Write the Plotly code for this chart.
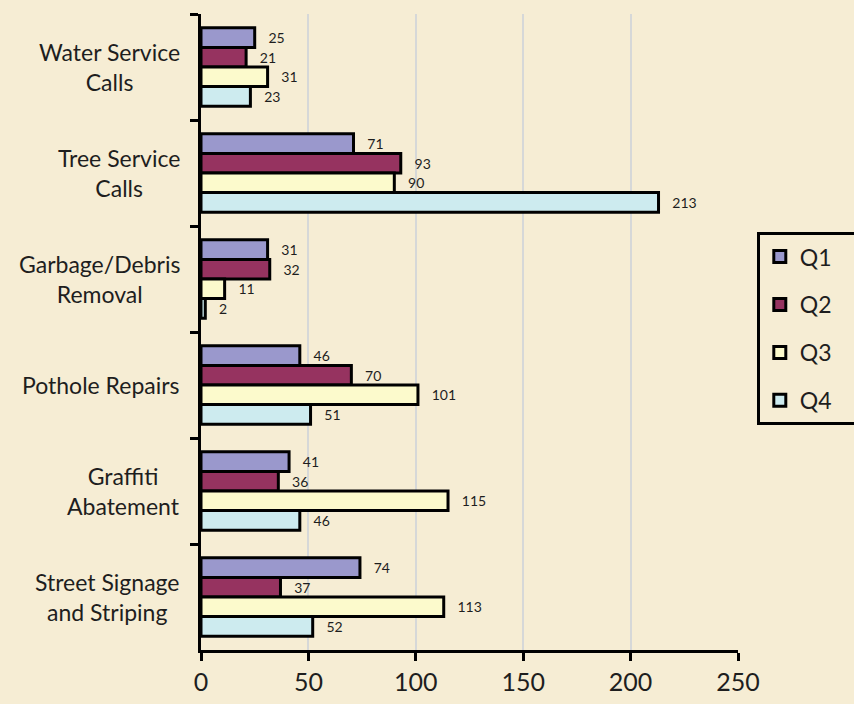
import plotly.graph_objects as go

categories = ["Water Service<br>Calls", "Tree Service<br>Calls", "Garbage/Debris<br>Removal",
              "Pothole Repairs", "Graffiti<br>Abatement", "Street Signage<br>and Striping"]
q1 = [25, 71, 31, 46, 41, 74]
q2 = [21, 93, 32, 70, 36, 37]
q3 = [31, 90, 11, 101, 115, 113]
q4 = [23, 213, 2, 51, 46, 52]
series_names = ["Q1", "Q2", "Q3", "Q4"]
series_values = [q1, q2, q3, q4]
colors = ["#9A98CC", "#963360", "#FCFACC", "#CDEBEF"]
x_ticks = [0, 50, 100, 150, 200, 250]

BG = "#F6EDD4"
FONT = "Lato, 'Open Sans', sans-serif"
TXT = "#1e1e1e"
PAD = "\u00a0" * 8  # widens the legend box so it runs off the right edge as in the original

fig = go.Figure()
for name, vals, col in zip(series_names, series_values, colors):
    fig.add_trace(go.Bar(
        y=categories, x=vals, name=name + PAD, orientation="h",
        marker=dict(color=col, line=dict(color="black", width=3)),
        text=["   " + str(v) for v in vals], textposition="outside",
        textfont=dict(size=14, color=TXT), cliponaxis=False,
        legendgroup=name,
    ))

# category labels: centred lines, block right-aligned near the axis
for cat in categories:
    fig.add_annotation(xref="paper", yref="y", x=-0.036, y=cat,
                       text=cat, showarrow=False, xanchor="right",
                       yanchor="middle", align="center",
                       font=dict(size=23, color=TXT, family=FONT))

fig.update_layout(
    width=854, height=704,
    paper_bgcolor=BG, plot_bgcolor=BG,
    font=dict(family=FONT, color=TXT),
    barmode="group", bargap=0.26, bargroupgap=0,
    margin=dict(l=201, r=116, t=14, b=54, autoexpand=False),
    legend=dict(x=1.035, xanchor="left", y=0.657, yanchor="top",
                bgcolor=BG, bordercolor="black", borderwidth=3,
                font=dict(size=23, color=TXT), tracegroupgap=15),
    showlegend=True,
)
fig.update_xaxes(range=[0, 250], tickvals=x_ticks, ticktext=[str(t) for t in x_ticks],
                 showgrid=True, gridcolor="#D6D8D8", gridwidth=2,
                 showline=True, linecolor="black", linewidth=3,
                 ticks="outside", ticklen=8, tickwidth=3, tickcolor="black",
                 tickfont=dict(size=25, color=TXT), zeroline=False)
fig.update_yaxes(autorange="reversed", showgrid=False,
                 showline=True, linecolor="black", linewidth=3,
                 ticks="outside", ticklen=8, tickwidth=3, tickcolor="black",
                 tickson="boundaries", showticklabels=False)

fig.write_html("out.html", config={"displayModeBar": False},
               post_script="document.body.style.margin='0';document.body.style.overflow='hidden';")
